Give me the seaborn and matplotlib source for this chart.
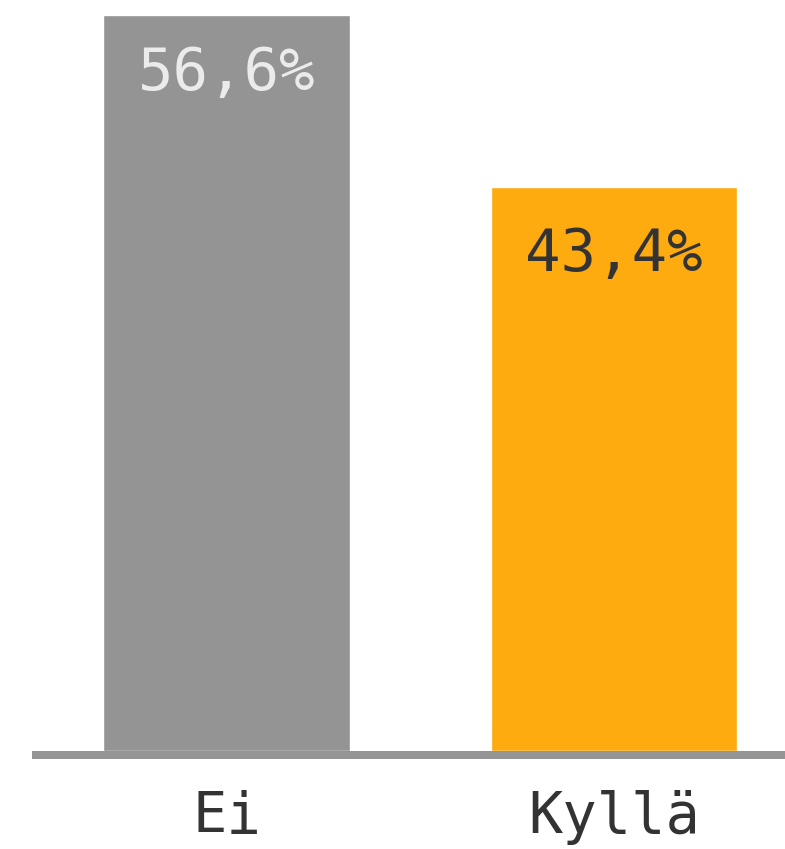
import matplotlib
matplotlib.use("Agg")
import matplotlib.pyplot as plt
import seaborn as sns
import pandas as pd

categories = ["Ei", "Kyllä"]
values = [56.6, 43.4]
value_labels = ["56,6%", "43,4%"]

bar_colors = ["#949495", "#fdab0f"]
label_colors = ["#ebebeb", "#333333"]
label_offsets_px = [-75, -84]  # baseline offset below bar top, pixels

sns.set_theme(style="white")
plt.rcParams["font.family"] = ["DejaVu Sans Mono", "DejaVu Sans"]

df = pd.DataFrame({"cat": categories, "val": values})

fig = plt.figure(figsize=(7.85, 8.49), dpi=100)
ax = fig.add_axes([32 / 785, (849 - 751) / 849, 753 / 785, 751 / 849])

sns.barplot(data=df, x="cat", y="val", hue="cat", palette=bar_colors,
            width=0.6365, legend=False, ax=ax, saturation=1)

ax.set_xlim(-0.5027, 1.4415)
ax.set_ylim(0, 57.75)

for i, (v, lab) in enumerate(zip(values, value_labels)):
    ax.annotate(lab, xy=(i, v), xytext=(0, label_offsets_px[i]),
                textcoords="offset pixels", ha="center", va="baseline",
                fontsize=42.5, color=label_colors[i])

ax.set_xlabel("")
ax.set_ylabel("")
ax.set_yticks([])
for s in ["top", "left", "right"]:
    ax.spines[s].set_visible(False)
sp = ax.spines["bottom"]
sp.set_color("#949495")
sp.set_linewidth(5.76)
sp.set_capstyle("butt")
sp.set_position(("outward", 2.88))
ax.tick_params(axis="x", length=0, pad=25, labelsize=41, labelcolor="#333333")
ax.set_facecolor("white")

fig.savefig("out.png", dpi=100, facecolor="white")
